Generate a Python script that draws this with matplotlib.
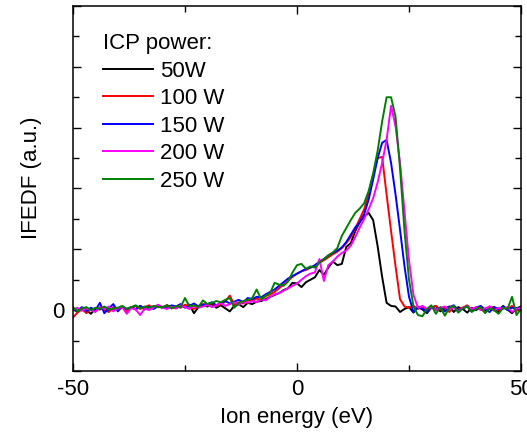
import numpy as np
import matplotlib
matplotlib.use("Agg")
import matplotlib.pyplot as plt
from matplotlib.ticker import MultipleLocator, FuncFormatter

plt.rcParams['font.family'] = ['Liberation Sans', 'DejaVu Sans']

# ion energy grid (eV), one reading per eV
energy = np.arange(-50, 51, 1)

# IFEDF readings (a.u.) per ICP power, -50 ... 50 eV
ifedf_50 = [
    0.02, -0.03, 0.04, 0.00, -0.06, 0.03, 0.01, 0.05, -0.02, 0.03,
    0.00, 0.06, -0.01, 0.04, 0.02, 0.07, 0.01, 0.05, 0.03, 0.06,
    0.04, 0.08, 0.05, 0.03, 0.07, 0.06, 0.09, -0.05, 0.05, 0.08,
    0.06, 0.10, 0.04, 0.08, 0.03, -0.02, 0.07, 0.10, 0.05, 0.12,
    0.10, 0.14, 0.15, 0.18, 0.22, 0.25, 0.28, 0.33, 0.36, 0.45,
    0.44, 0.38, 0.46, 0.50, 0.54, 0.66, 0.58, 0.70, 0.80, 0.74,
    0.76, 1.04, 1.10, 1.30, 1.45, 1.54, 1.60, 1.48, 1.05, 0.55,
    0.12, 0.07, 0.06, -0.03, 0.02, 0.05, -0.04, 0.06, 0.01, -0.05,
    0.04, 0.07, -0.02, 0.03, 0.06, -0.03, 0.05, 0.02, -0.04, 0.04,
    0.00, 0.06, -0.02, 0.03, 0.05, -0.03, 0.07, 0.01, -0.05, 0.03, 0.06,
]
ifedf_100 = [
    -0.12, -0.04, 0.02, -0.05, 0.03, -0.02, 0.04, 0.00, -0.03, 0.05,
    0.01, 0.06, -0.02, 0.04, 0.07, 0.02, 0.05, 0.08, 0.03, 0.06,
    0.05, 0.08, 0.03, 0.07, 0.04, 0.09, 0.06, 0.02, 0.07, 0.10,
    0.08, 0.12, 0.07, 0.10, 0.14, 0.24, 0.09, 0.13, 0.11, 0.16,
    0.15, 0.19, 0.17, 0.23, 0.26, 0.30, 0.36, 0.42, 0.48, 0.55,
    0.60, 0.64, 0.66, 0.70, 0.72, 0.78, 0.82, 0.87, 0.92, 0.96,
    1.02, 1.10, 1.20, 1.34, 1.50, 1.66, 1.92, 2.22, 2.50, 2.52,
    1.90, 1.30, 0.72, 0.18, 0.06, 0.04, 0.07, 0.02, 0.05, -0.02,
    0.04, 0.07, 0.01, 0.05, -0.03, 0.06, 0.02, 0.04, 0.08, 0.00,
    0.05, 0.02, -0.03, 0.06, 0.03, 0.00, 0.05, 0.02, 0.07, -0.01, 0.04,
]
ifedf_150 = [
    0.02, -0.01, 0.05, -0.02, 0.04, 0.00, 0.12, -0.05, 0.03, 0.10,
    -0.02, 0.06, 0.02, 0.05, 0.01, 0.07, 0.03, 0.06, 0.02, 0.08,
    0.05, 0.03, 0.08, 0.06, 0.10, 0.04, 0.07, 0.11, 0.06, 0.09,
    0.10, 0.13, 0.08, 0.12, 0.15, 0.11, 0.14, 0.17, 0.13, 0.20,
    0.18, 0.22, 0.21, 0.26, 0.30, 0.34, 0.40, 0.46, 0.52, 0.56,
    0.60, 0.64, 0.68, 0.70, 0.74, 0.80, 0.84, 0.90, 0.94, 0.98,
    1.03, 1.12, 1.24, 1.36, 1.44, 1.58, 1.82, 2.15, 2.50, 2.75,
    2.80, 2.42, 1.90, 1.32, 0.72, 0.22, -0.03, 0.05, 0.02, -0.03,
    0.06, 0.01, 0.04, -0.02, 0.05, 0.08, 0.00, 0.03, 0.06, -0.02,
    0.04, 0.07, 0.01, -0.03, 0.05, 0.02, 0.06, 0.00, 0.04, 0.03, 0.01,
]
ifedf_200 = [
    0.01, 0.04, -0.01, 0.03, 0.00, -0.03, 0.05, 0.02, 0.06, -0.02,
    0.03, 0.05, -0.06, 0.04, 0.01, -0.08, 0.03, 0.00, 0.05, 0.09,
    0.04, 0.02, 0.06, 0.03, 0.08, 0.05, 0.02, 0.07, 0.04, 0.06,
    0.09, 0.05, 0.08, 0.12, 0.07, 0.10, 0.13, 0.09, 0.14, 0.12,
    0.15, 0.13, 0.18, 0.16, 0.22, 0.26, 0.28, 0.32, 0.36, 0.40,
    0.44, 0.50, 0.56, 0.60, 0.62, 0.84, 0.48, 0.74, 0.80, 0.88,
    0.94, 0.98, 1.06, 1.20, 1.36, 1.50, 1.66, 1.84, 2.10, 2.42,
    2.80, 3.36, 3.02, 2.42, 1.62, 0.82, 0.25, 0.04, 0.07, 0.02,
    0.05, 0.00, 0.04, 0.06, 0.01, 0.05, -0.02, 0.04, 0.06, 0.02,
    0.05, 0.00, 0.03, 0.06, -0.01, 0.04, 0.02, 0.05, -0.03, 0.02, 0.04,
]
ifedf_250 = [
    0.05, -0.02, 0.03, 0.05, 0.00, 0.04, 0.02, 0.06, 0.01, 0.03,
    0.04, 0.07, 0.02, 0.05, 0.08, 0.03, 0.06, 0.04, 0.07, 0.05,
    0.05, 0.08, 0.03, 0.07, 0.05, 0.20, 0.06, 0.08, 0.05, 0.16,
    0.10, 0.12, 0.15, 0.13, 0.17, 0.20, 0.04, 0.12, 0.15, 0.17,
    0.20, 0.34, 0.18, 0.24, 0.28, 0.45, 0.42, 0.40, 0.47, 0.62,
    0.74, 0.76, 0.68, 0.72, 0.70, 0.78, 0.84, 0.90, 0.95, 1.02,
    1.22, 1.35, 1.48, 1.60, 1.67, 1.76, 1.96, 2.25, 2.62, 3.10,
    3.50, 3.50, 3.18, 2.33, 1.30, 0.50, 0.06, -0.08, -0.10, 0.02,
    0.08, -0.06, 0.05, -0.09, 0.04, 0.07, -0.04, 0.03, 0.06, -0.03,
    0.02, 0.05, -0.05, 0.03, 0.00, -0.06, 0.04, 0.02, 0.22, -0.08, 0.02,
]

labels = ['50W', '100 W', '150 W', '200 W', '250 W']
colors = ['black', '#ff0000', '#0000ff', '#ff00ff', '#008000']
series = [ifedf_50, ifedf_100, ifedf_150, ifedf_200, ifedf_250]

fig = plt.figure(figsize=(5.27, 4.36), dpi=100)
ax = fig.add_axes([73 / 527, 65 / 436, 448 / 527, 365 / 436])

for y, lab, c in zip(series, labels, colors):
    ax.plot(energy, y, color=c, lw=1.4, label=lab)

ax.set_xlim(-50, 50)
ax.set_ylim(-1, 5)

ax.xaxis.set_major_locator(MultipleLocator(50))
ax.xaxis.set_minor_locator(MultipleLocator(25))
ax.yaxis.set_major_locator(MultipleLocator(1))
ax.yaxis.set_minor_locator(MultipleLocator(0.5))
ax.yaxis.set_major_formatter(FuncFormatter(lambda v, p: '0' if abs(v) < 1e-9 else ''))
ax.xaxis.set_major_formatter(FuncFormatter(lambda v, p: '%d' % v))

ax.tick_params(which='both', direction='in', top=True, right=True,
               labelsize=16, width=1.0)
ax.tick_params(which='major', length=6, pad=6)
ax.tick_params(which='minor', length=4)
for s in ax.spines.values():
    s.set_linewidth(1.1)

ax.set_xlabel('Ion energy (eV)', fontsize=16, labelpad=5)
ax.set_ylabel('IFEDF (a.u.)', fontsize=16)
ax.yaxis.set_label_coords(-0.07, 0.53)

leg = ax.legend(title='ICP power:', loc='upper left', bbox_to_anchor=(0.067, 0.925),
                frameon=False, fontsize=16, title_fontsize=16, alignment='left',
                handlelength=2.25, handletextpad=0.3, labelspacing=0.29,
                borderpad=0, borderaxespad=0)

fig.savefig('out.png', dpi=100)
